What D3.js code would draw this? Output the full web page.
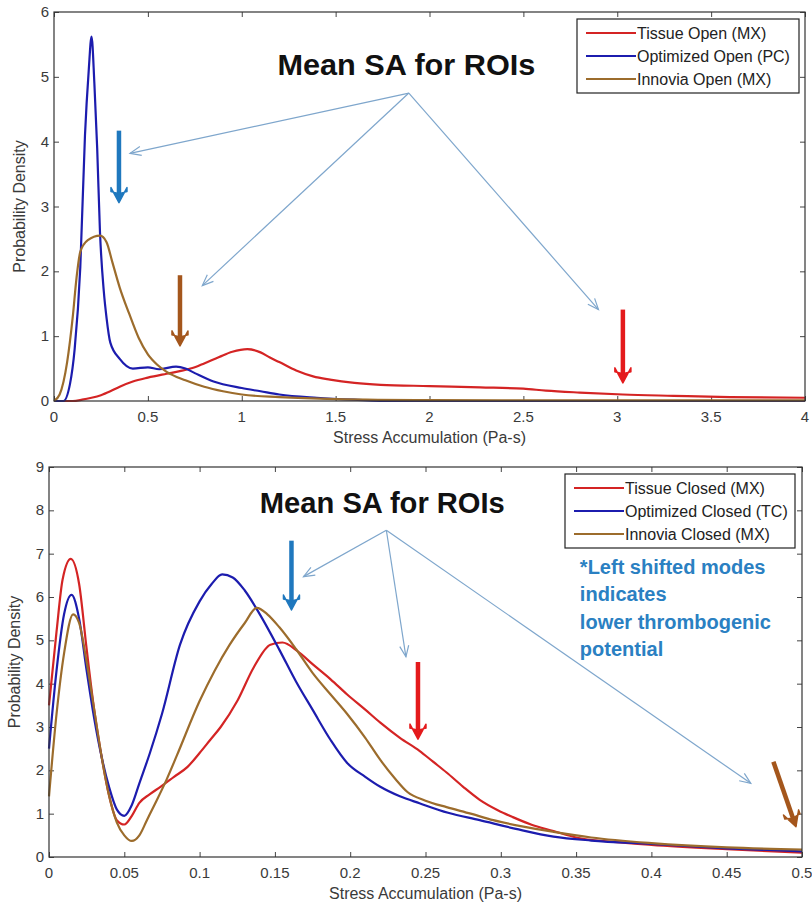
<!DOCTYPE html>
<html>
<head>
<meta charset="utf-8">
<script src="https://cdn.jsdelivr.net/npm/d3@7"></script>
<style>
  body { margin: 0; background: #fff; }
  text { font-family: Arial, "Liberation Sans", sans-serif; }
</style>
</head>
<body>
<svg width="812" height="905"></svg>
<script>
// ---- data ----
var seriesNamesOpen = ["Tissue Open (MX)", "Optimized Open (PC)", "Innovia Open (MX)"];
var seriesNamesClosed = ["Tissue Closed (MX)", "Optimized Closed (TC)", "Innovia Closed (MX)"];
var seriesColors = ["#d42424", "#1c1cae", "#9c6c2c"];

var xTicksOpen = [0, 0.5, 1, 1.5, 2, 2.5, 3, 3.5, 4];
var yTicksOpen = [0, 1, 2, 3, 4, 5, 6];
var xTicksClosed = [0, 0.05, 0.1, 0.15, 0.2, 0.25, 0.3, 0.35, 0.4, 0.45, 0.5];
var yTicksClosed = [0, 1, 2, 3, 4, 5, 6, 7, 8, 9];

var tissueOpen = [[0,0],[0.1,0],[0.15,0.02],[0.2,0.05],[0.25,0.09],[0.3,0.15],[0.35,0.22],[0.42,0.3],[0.5,0.36],[0.6,0.42],[0.67,0.46],[0.75,0.52],[0.8,0.58],[0.88,0.68],[0.95,0.76],[1.03,0.8],[1.1,0.75],[1.15,0.67],[1.2,0.6],[1.29,0.47],[1.38,0.38],[1.47,0.33],[1.6,0.28],[1.74,0.25],[2.0,0.23],[2.27,0.21],[2.5,0.19],[2.62,0.16],[2.8,0.13],[3.03,0.1],[3.3,0.08],[3.6,0.06],[4,0.05]];
var optimizedOpen = [[0,0],[0.05,0],[0.085,0.26],[0.11,0.8],[0.14,2.06],[0.165,4.1],[0.185,5.1],[0.2,5.62],[0.215,4.9],[0.23,3.9],[0.245,2.6],[0.265,1.7],[0.28,1.28],[0.3,0.9],[0.35,0.65],[0.42,0.5],[0.5,0.52],[0.56,0.49],[0.65,0.53],[0.7,0.5],[0.75,0.43],[0.85,0.3],[1.0,0.2],[1.1,0.15],[1.2,0.1],[1.4,0.05],[1.6,0.02],[1.8,0],[4,0]];
var innoviaOpen = [[0,0],[0.03,0.1],[0.07,0.6],[0.1,1.3],[0.12,1.9],[0.14,2.3],[0.18,2.48],[0.245,2.55],[0.28,2.45],[0.31,2.15],[0.35,1.75],[0.4,1.35],[0.45,0.98],[0.5,0.72],[0.55,0.56],[0.6,0.45],[0.7,0.32],[0.8,0.22],[0.9,0.15],[1.0,0.1],[1.2,0.06],[1.5,0.03],[2,0.015],[3,0.01],[4,0.01]];

var tissueClosed = [[0,3.5],[0.005,5.2],[0.009,6.4],[0.0145,6.88],[0.02,6.3],[0.025,4.8],[0.03,3.4],[0.035,2.3],[0.04,1.4],[0.045,0.85],[0.05,0.75],[0.055,0.95],[0.06,1.25],[0.067,1.45],[0.074,1.62],[0.083,1.85],[0.092,2.08],[0.1,2.4],[0.107,2.7],[0.114,3.0],[0.125,3.6],[0.136,4.38],[0.147,4.9],[0.155,4.95],[0.165,4.75],[0.175,4.45],[0.187,4.1],[0.198,3.75],[0.21,3.4],[0.22,3.1],[0.233,2.75],[0.246,2.45],[0.255,2.2],[0.264,1.95],[0.275,1.62],[0.286,1.32],[0.298,1.08],[0.308,0.92],[0.32,0.75],[0.335,0.6],[0.35,0.45],[0.375,0.35],[0.4,0.28],[0.45,0.18],[0.5,0.1]];
var optimizedClosed = [[0,2.5],[0.005,4.3],[0.01,5.6],[0.015,6.05],[0.02,5.5],[0.025,4.3],[0.03,3.2],[0.035,2.3],[0.04,1.6],[0.045,1.1],[0.05,0.95],[0.055,1.2],[0.06,1.7],[0.067,2.4],[0.075,3.3],[0.087,4.9],[0.1,5.9],[0.108,6.3],[0.115,6.52],[0.122,6.45],[0.13,6.15],[0.14,5.6],[0.153,4.78],[0.164,4.05],[0.175,3.4],[0.187,2.7],[0.198,2.17],[0.21,1.85],[0.22,1.62],[0.233,1.4],[0.246,1.24],[0.265,1.02],[0.286,0.85],[0.31,0.65],[0.335,0.47],[0.36,0.38],[0.4,0.3],[0.45,0.2],[0.5,0.13]];
var innoviaClosed = [[0,1.4],[0.005,3.3],[0.01,4.7],[0.016,5.6],[0.02,5.4],[0.025,4.5],[0.03,3.4],[0.035,2.3],[0.04,1.4],[0.045,0.8],[0.05,0.5],[0.055,0.37],[0.06,0.5],[0.065,0.85],[0.07,1.2],[0.078,1.78],[0.085,2.35],[0.1,3.6],[0.11,4.3],[0.12,4.9],[0.13,5.4],[0.138,5.75],[0.145,5.6],[0.153,5.3],[0.164,4.8],[0.175,4.25],[0.187,3.75],[0.198,3.3],[0.21,2.75],[0.22,2.24],[0.23,1.8],[0.238,1.5],[0.25,1.3],[0.264,1.15],[0.28,1.0],[0.295,0.85],[0.315,0.7],[0.335,0.58],[0.36,0.45],[0.4,0.32],[0.45,0.22],[0.5,0.17]];

// annotations, in data units of each panel
var calloutOpen = {from: [1.89, 4.75], to: [[0.405, 3.82], [0.79, 1.78], [2.9, 1.41]]};
var calloutClosed = {from: [0.224, 7.54], to: [[0.169, 6.47], [0.237, 4.62], [0.466, 1.7]]};
var modeArrowsOpen = [
  {x1: 0.346, y1: 4.17, x2: 0.346, y2: 3.06, color: "#1f78be"},
  {x1: 0.671, y1: 1.94, x2: 0.671, y2: 0.85, color: "#a4561c"},
  {x1: 3.03, y1: 1.41, x2: 3.03, y2: 0.28, color: "#e41a1c"}
];
var modeArrowsClosed = [
  {x1: 0.161, y1: 7.3, x2: 0.161, y2: 5.7, color: "#1f78be"},
  {x1: 0.245, y1: 4.5, x2: 0.245, y2: 2.72, color: "#e41a1c"},
  {x1: 0.481, y1: 2.2, x2: 0.496, y2: 0.7, color: "#a4561c"}
];
var noteLines = ["*Left shifted modes", "indicates", "lower thrombogenic", "potential"];

var svg = d3.select("svg");

var defs = svg.append("defs");
defs.append("marker")
    .attr("id", "thin-head")
    .attr("viewBox", "-12 -6 14 12")
    .attr("refX", 0).attr("refY", 0)
    .attr("markerWidth", 14).attr("markerHeight", 12)
    .attr("markerUnits", "userSpaceOnUse")
    .attr("orient", "auto")
  .append("path")
    .attr("d", "M-11,-4.5 L0,0 L-11,4.5")
    .attr("fill", "none")
    .attr("stroke", "#7ea6cc")
    .attr("stroke-width", 1.2);

function drawPanel(cfg) {
  var x = d3.scaleLinear().domain(cfg.xDomain).range([cfg.left, cfg.right]);
  var y = d3.scaleLinear().domain(cfg.yDomain).range([cfg.bottom, cfg.top]);
  var g = svg.append("g");

  // inward ticks on all four sides, like MATLAB's box
  g.append("g").attr("transform", "translate(0," + cfg.bottom + ")")
    .call(d3.axisTop(x).tickValues(cfg.xTicks).tickSize(5).tickFormat(""));
  g.append("g").attr("transform", "translate(0," + cfg.top + ")")
    .call(d3.axisBottom(x).tickValues(cfg.xTicks).tickSize(5).tickFormat(""));
  g.append("g").attr("transform", "translate(" + cfg.left + ",0)")
    .call(d3.axisRight(y).tickValues(cfg.yTicks).tickSize(5).tickFormat(""));
  g.append("g").attr("transform", "translate(" + cfg.right + ",0)")
    .call(d3.axisLeft(y).tickValues(cfg.yTicks).tickSize(5).tickFormat(""));
  g.selectAll(".domain").remove();
  g.selectAll(".tick line").attr("stroke", "#444");

  g.selectAll(".xlab").data(cfg.xTicks).enter().append("text")
    .attr("x", function(d) { return x(d); })
    .attr("y", cfg.bottom + 21)
    .attr("text-anchor", "middle")
    .attr("font-size", "15px").attr("fill", "#3a3a3a")
    .text(function(d) { return d; });
  g.selectAll(".ylab").data(cfg.yTicks).enter().append("text")
    .attr("x", cfg.left - 5)
    .attr("y", function(d) { return y(d) + 5; })
    .attr("text-anchor", "end")
    .attr("font-size", "15px").attr("fill", "#3a3a3a")
    .text(function(d) { return d; });

  g.append("text")
    .attr("x", (cfg.left + cfg.right) / 2)
    .attr("y", cfg.bottom + 42)
    .attr("text-anchor", "middle")
    .attr("font-size", "16px").attr("fill", "#3a3a3a")
    .text("Stress Accumulation (Pa-s)");
  g.append("text")
    .attr("transform", "translate(" + cfg.yLabelX + "," + ((cfg.top + cfg.bottom) / 2) + ") rotate(-90)")
    .attr("text-anchor", "middle")
    .attr("font-size", "16px").attr("fill", "#3a3a3a")
    .text("Probability Density");

  var line = d3.line()
    .x(function(d) { return x(d[0]); })
    .y(function(d) { return y(d[1]); })
    .curve(d3.curveMonotoneX);

  g.selectAll(".curve").data(cfg.series).enter().append("path")
    .attr("d", function(d) { return line(d); })
    .attr("fill", "none")
    .attr("stroke", function(d, i) { return seriesColors[i]; })
    .attr("stroke-width", 2.2)
    .attr("stroke-linejoin", "round");

  // box
  g.append("rect")
    .attr("x", cfg.left).attr("y", cfg.top)
    .attr("width", cfg.right - cfg.left).attr("height", cfg.bottom - cfg.top)
    .attr("fill", "none").attr("stroke", "#333").attr("stroke-width", 1.2);

  // legend
  var lg = g.append("g").attr("transform", "translate(" + cfg.legend.x + "," + cfg.legend.y + ")");
  lg.append("rect")
    .attr("width", cfg.legend.w).attr("height", 74)
    .attr("fill", "#fff").attr("stroke", "#222").attr("stroke-width", 1.2);
  cfg.names.forEach(function(name, i) {
    var ly = 14 + i * 23;
    lg.append("line")
      .attr("x1", 9).attr("x2", 59).attr("y1", ly).attr("y2", ly)
      .attr("stroke", seriesColors[i]).attr("stroke-width", 2);
    lg.append("text")
      .attr("x", 60).attr("y", ly + 5.5)
      .attr("font-size", "16px").attr("fill", "#222")
      .text(name);
  });

  // title
  g.append("text")
    .attr("x", x(cfg.title.x)).attr("y", y(cfg.title.y))
    .attr("font-family", "Lato, 'Open Sans', sans-serif")
    .attr("font-weight", "bold")
    .attr("font-size", "30px").attr("fill", "#111")
    .attr("textLength", cfg.title.w).attr("lengthAdjust", "spacingAndGlyphs")
    .text("Mean SA for ROIs");

  // thin callout arrows
  cfg.callout.to.forEach(function(t) {
    g.append("line")
      .attr("x1", x(cfg.callout.from[0])).attr("y1", y(cfg.callout.from[1]))
      .attr("x2", x(t[0])).attr("y2", y(t[1]))
      .attr("stroke", "#7ea6cc").attr("stroke-width", 1.2)
      .attr("marker-end", "url(#thin-head)");
  });

  // thick arrows pointing at the modes
  cfg.arrows.forEach(function(a) {
    var x1 = x(a.x1), y1 = y(a.y1), x2 = x(a.x2), y2 = y(a.y2);
    var ang = Math.atan2(y2 - y1, x2 - x1);
    var ca = Math.cos(ang), sa = Math.sin(ang);
    function pt(back, side) {
      return [x2 - back * ca - side * sa, y2 - back * sa + side * ca];
    }
    var notch = pt(9, 0);
    g.append("line")
      .attr("x1", x1).attr("y1", y1).attr("x2", notch[0]).attr("y2", notch[1])
      .attr("stroke", a.color).attr("stroke-width", 4.5);
    g.append("path")
      .attr("d", "M" + [x2, y2] + "L" + pt(15, 8) + "L" + pt(11, 8) + "L" + notch +
                 "L" + pt(11, -8) + "L" + pt(15, -8) + "Z")
      .attr("fill", a.color)
      .attr("stroke", a.color).attr("stroke-width", 1.5).attr("stroke-linejoin", "round");
  });
  return {x: x, y: y, g: g};
}

drawPanel({
  xDomain: [0, 4], yDomain: [0, 6],
  left: 54, right: 805, top: 12, bottom: 401,
  xTicks: xTicksOpen, yTicks: yTicksOpen, yLabelX: 25,
  series: [tissueOpen, optimizedOpen, innoviaOpen],
  names: seriesNamesOpen,
  legend: {x: 577, y: 19, w: 222},
  title: {x: 1.19, y: 5.03, w: 258},
  callout: calloutOpen,
  arrows: modeArrowsOpen
});

var bottomPanel = drawPanel({
  xDomain: [0, 0.5], yDomain: [0, 9],
  left: 49, right: 802, top: 467, bottom: 857,
  xTicks: xTicksClosed, yTicks: yTicksClosed, yLabelX: 20,
  series: [tissueClosed, optimizedClosed, innoviaClosed],
  names: seriesNamesClosed,
  legend: {x: 565, y: 474, w: 230},
  title: {x: 0.140, y: 7.94, w: 245},
  callout: calloutClosed,
  arrows: modeArrowsClosed
});

// blue note under the bottom legend
var note = bottomPanel.g.append("text")
    .attr("font-family", "Lato, 'Open Sans', sans-serif")
    .attr("font-weight", "bold")
    .attr("font-size", "20px")
    .attr("fill", "#2a80c2");
note.selectAll("tspan").data(noteLines).enter().append("tspan")
    .attr("x", bottomPanel.x(0.3525))
    .attr("y", function(d, i) { return bottomPanel.y(6.54) + i * 27.5; })
    .text(function(d) { return d; });
</script>
</body>
</html>
